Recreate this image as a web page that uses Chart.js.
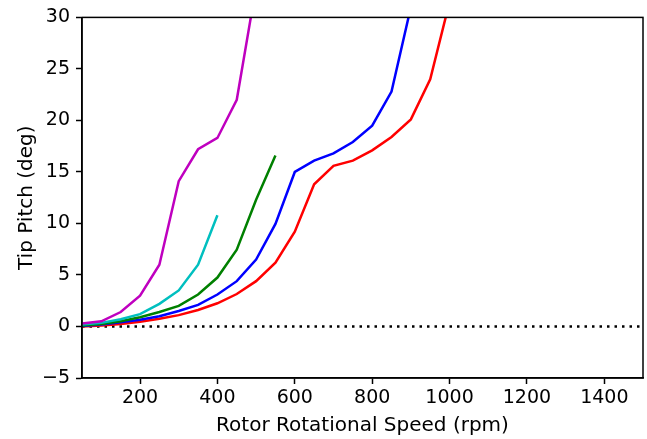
<!DOCTYPE html>
<html>
<head>
<meta charset="utf-8">
<script src="https://cdn.jsdelivr.net/npm/chart.js@4"></script>
<style>
  html, body { margin: 0; padding: 0; background: #fff; }
  #wrap { width: 647px; height: 439px; position: relative; }
</style>
</head>
<body>
<div id="wrap"><canvas id="pitchChart"></canvas></div>
<script>
// rotor speed samples (rpm), every 50 rpm starting at 50
const rpm = [50, 100, 150, 200, 250, 300, 350, 400, 450, 500,
             550, 600, 650, 700, 750, 800, 850, 900, 950, 1000];

// tip pitch (deg) per configuration, one value per rpm sample until the curve stops
const pitchMagenta = [0.3, 0.5, 1.4, 3.0, 6.0, 14.1, 17.2, 18.3, 22.0, 33.0];
const pitchCyan = [0.2, 0.35, 0.7, 1.2, 2.2, 3.5, 6.0, 10.8];
const pitchGreen = [0.1, 0.25, 0.5, 0.9, 1.4, 2.0, 3.1, 4.75, 7.45, 12.3, 16.6];
const pitchBlue = [0.05, 0.2, 0.4, 0.65, 1.0, 1.5, 2.1, 3.1, 4.4, 6.5,
                   9.95, 15.0, 16.1, 16.8, 17.9, 19.5, 22.8, 31.0];
const pitchRed = [0.0, 0.1, 0.25, 0.45, 0.75, 1.1, 1.6, 2.25, 3.15, 4.4,
                  6.2, 9.2, 13.8, 15.6, 16.1, 17.1, 18.4, 20.1, 24.0, 31.5];

const xTicks = [200, 400, 600, 800, 1000, 1200, 1400];
const zeroLine = [{x: 50, y: 0}, {x: 1500, y: 0}];

const FONT = "'DejaVu Sans', sans-serif";

function pts(vals) {
    return vals.map((v, i) => ({x: rpm[i], y: v}));
}

function curve(vals, color) {
    return {
        data: pts(vals),
        borderColor: color,
        backgroundColor: color,
        borderWidth: 2.5,
        pointRadius: 0,
        tension: 0,
        fill: false,
        clip: 0
    };
}

// matplotlib-style closed frame around the axes
const frame = {
    id: 'frame',
    afterDatasetsDraw(chart) {
        const {ctx, chartArea: a} = chart;
        ctx.save();
        ctx.strokeStyle = '#000';
        ctx.lineWidth = 1.5;
        ctx.strokeRect(a.left, a.top, a.right - a.left, a.bottom - a.top);
        ctx.restore();
    }
};

const ctx = document.getElementById('pitchChart').getContext('2d');

const pitchChart = new Chart(ctx, {
    type: 'line',
    data: {
        datasets: [
            curve(pitchMagenta, '#bf00bf'),
            curve(pitchCyan, '#00bfbf'),
            curve(pitchGreen, '#008000'),
            curve(pitchBlue, '#0000ff'),
            curve(pitchRed, '#ff0000'),
            {
                data: zeroLine,
                borderColor: '#000',
                borderWidth: 2.5,
                borderDash: [2.5, 5],
                pointRadius: 0,
                clip: 0
            }
        ]
    },
    options: {
        responsive: true,
        maintainAspectRatio: false,
        animation: false,
        layout: {padding: {top: 15, right: 4, left: 0, bottom: 0}},
        plugins: {legend: {display: false}, tooltip: {enabled: false}},
        scales: {
            x: {
                type: 'linear',
                min: 50,
                max: 1500,
                afterBuildTicks(scale) {
                    scale.ticks = xTicks.map(v => ({value: v}));
                },
                afterFit(scale) { scale.height = 61; },
                grid: {drawOnChartArea: false, tickLength: 6, tickColor: '#000', tickWidth: 1.5},
                border: {color: '#000', width: 1.5},
                ticks: {
                    color: '#000',
                    font: {family: FONT, size: 19},
                    padding: 3,
                    maxRotation: 0,
                    callback: v => String(v)
                },
                title: {
                    display: true,
                    text: 'Rotor Rotational Speed (rpm)',
                    color: '#000',
                    font: {family: FONT, size: 20},
                    padding: {top: 0, bottom: 1}
                }
            },
            y: {
                min: -5,
                max: 30,
                afterFit(scale) { scale.width = 82; },
                grid: {drawOnChartArea: false, tickLength: 6, tickColor: '#000', tickWidth: 1.5},
                border: {color: '#000', width: 1.5},
                ticks: {
                    stepSize: 5,
                    color: '#000',
                    font: {family: FONT, size: 19},
                    padding: 6,
                    callback: v => String(v).replace('-', '\u2212')
                },
                title: {
                    display: true,
                    text: 'Tip Pitch (deg)',
                    color: '#000',
                    font: {family: FONT, size: 20},
                    padding: {top: 15, bottom: 0}
                }
            }
        }
    },
    plugins: [frame]
});
</script>
</body>
</html>
